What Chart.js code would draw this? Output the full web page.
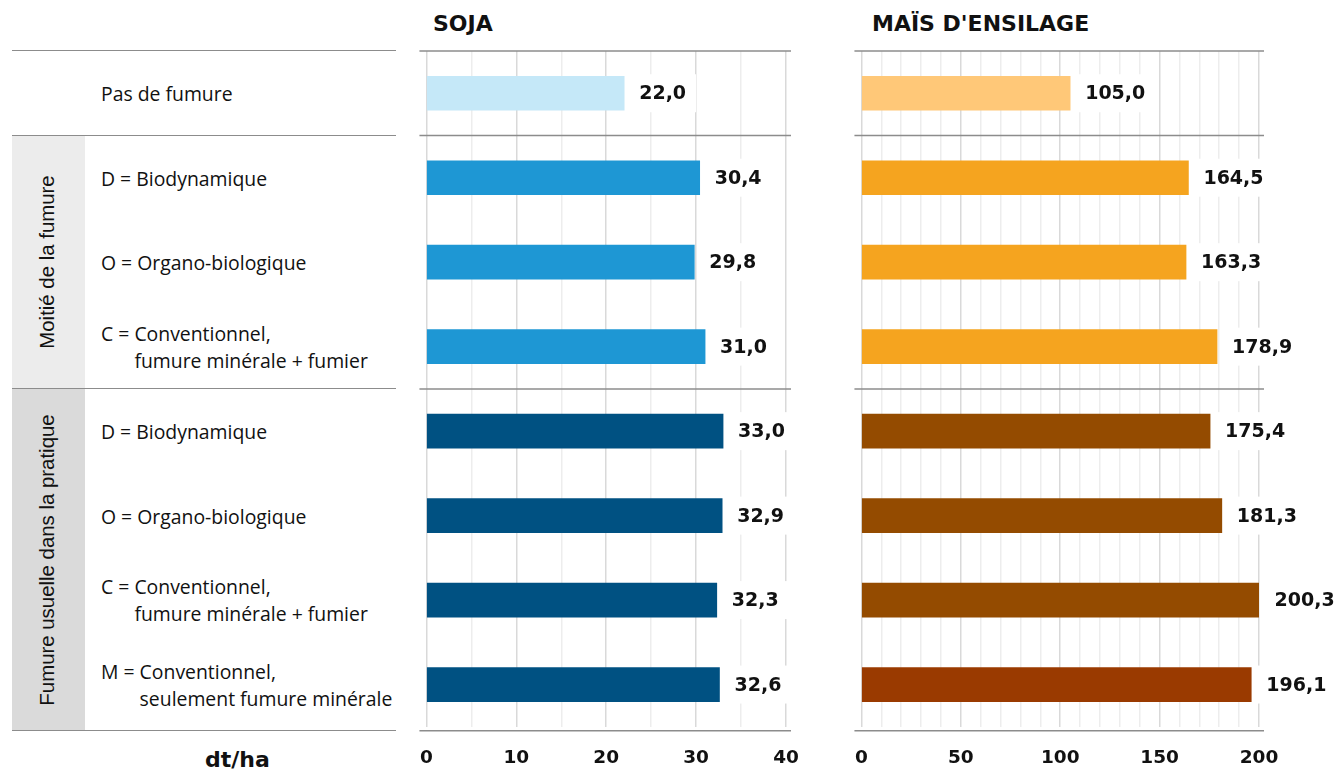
<!DOCTYPE html>
<html lang="fr">
<head>
<meta charset="utf-8">
<title>Rendements soja et maïs d'ensilage</title>
<script src="https://cdn.jsdelivr.net/npm/chart.js@4.4.1/dist/chart.umd.min.js"></script>
<style>
  html, body { margin: 0; padding: 0; background: #fff; }
  body { width: 1340px; height: 771px; position: relative; overflow: hidden;
         font-family: "Open Sans", sans-serif; color: #1a1a1a; }
  .abs { position: absolute; }
  #sojaWrap { left: 400px; top: 0; width: 430px; height: 792px; }
  #maisWrap { left: 835px; top: 0; width: 505px; height: 792px; }
  .title { font-family: "DejaVu Sans", sans-serif; font-weight: bold; font-size: 22px; top: 11px; color: #111; }
  .rowlabel { left: 101px; font-size: 19.4px; line-height: 27px; display: flex; transform: translateY(-50%); white-space: nowrap; color: #111; }
  .group { left: 12px; width: 73px; }
  .grouptext { left: 47px; transform: translate(-50%, -50%) rotate(-90deg); white-space: nowrap;
               font-family: "Liberation Sans", sans-serif; font-size: 20.4px; color: #111; }
  .sep { left: 12px; width: 384px; height: 0; border-top: 1.5px solid #8c8c8c; }
  #unit { left: 205px; top: 747px; font-family: "DejaVu Sans", sans-serif; font-weight: bold; font-size: 22px; color: #111; }
</style>
</head>
<body>
<div class="abs title" style="left:433px">SOJA</div>
<div class="abs title" style="left:872px">MAÏS D'ENSILAGE</div>
<div id="left"></div>
<div class="abs" id="unit">dt/ha</div>
<div class="abs" id="sojaWrap"><canvas id="sojaChart"></canvas></div>
<div class="abs" id="maisWrap"><canvas id="maisChart"></canvas></div>

<script>
// rows, top to bottom
const rowPrefix = ['', 'D = ', 'O = ', 'C = ', 'D = ', 'O = ', 'C = ', 'M = '];
const rowText = [
    ['Pas de fumure'],
    ['Biodynamique'],
    ['Organo-biologique'],
    ['Conventionnel,', 'fumure minérale + fumier'],
    ['Biodynamique'],
    ['Organo-biologique'],
    ['Conventionnel,', 'fumure minérale + fumier'],
    ['Conventionnel,', 'seulement fumure minérale']
];
const categories = rowText.map((t, i) => rowPrefix[i] + t.join(' '));

// groups of rows
const groupNames = ['', 'Moitié de la fumure', 'Fumure usuelle dans la pratique'];
const groupFirst = [0, 1, 4];
const groupLast = [0, 3, 7];
const groupFill = [null, '#ececec', '#dadada'];

// yields in dt/ha
const sojaValues = [22.0, 30.4, 29.8, 31.0, 33.0, 32.9, 32.3, 32.6];
const maisValues = [105.0, 164.5, 163.3, 178.9, 175.4, 181.3, 200.3, 196.1];

const sojaColors = ['#c5e8f8', '#1e97d4', '#1e97d4', '#1e97d4', '#005182', '#005182', '#005182', '#005182'];
const maisColors = ['#ffc878', '#f5a41f', '#f5a41f', '#f5a41f', '#944b00', '#944b00', '#944b00', '#9a3a00'];

const sojaTicks = { max: 40, minor: 5, major: 10 };
const maisTicks = { max: 200, minor: 10, major: 50 };

const numFont = '"DejaVu Sans", sans-serif';

function fmt(v) {
    return v.toFixed(1).replace('.', ',');
}

// boundaries between groups, from the row scale
function groupEdges(chart) {
    const y = chart.scales.y;
    const edges = [chart.chartArea.top];
    for (let g = 1; g < groupFirst.length; g++) {
        edges.push((y.getPixelForValue(groupFirst[g] - 1) + y.getPixelForValue(groupFirst[g])) / 2);
    }
    edges.push(chart.chartArea.bottom + 4);
    return edges;
}

const valueLabels = {
    id: 'valueLabels',
    afterDatasetsDraw(chart) {
        const ctx = chart.ctx;
        const data = chart.data.datasets[0].data;
        ctx.save();
        ctx.font = 'bold 19px ' + numFont;
        ctx.textBaseline = 'middle';
        chart.getDatasetMeta(0).data.forEach((bar, i) => {
            const txt = fmt(data[i]);
            const w = ctx.measureText(txt).width;
            // white box hides the grid behind the label
            ctx.fillStyle = '#fff';
            ctx.fillRect(bar.x + 6, bar.y - 19, w + 19, 38);
            ctx.fillStyle = '#111';
            ctx.fillText(txt, bar.x + 15, bar.y + 1);
        });
        ctx.restore();
    },
    afterDraw(chart) {
        const ctx = chart.ctx;
        const area = chart.chartArea;
        ctx.save();
        ctx.strokeStyle = '#8c8c8c';
        ctx.lineWidth = 1.5;
        groupEdges(chart).forEach(yy => {
            ctx.beginPath();
            ctx.moveTo(area.left - 7, yy);
            ctx.lineTo(area.right + 5, yy);
            ctx.stroke();
        });
        ctx.restore();
    }
};

function makeChart(id, values, colors, ticks, padRight) {
    return new Chart(document.getElementById(id), {
        type: 'bar',
        data: {
            labels: categories,
            datasets: [{ data: values, backgroundColor: colors, barThickness: 34 }]
        },
        options: {
            indexAxis: 'y',
            responsive: true,
            maintainAspectRatio: false,
            animation: false,
            layout: { padding: { top: 51, left: 26, right: padRight, bottom: 3 } },
            plugins: { legend: { display: false }, tooltip: { enabled: false } },
            scales: {
                y: { display: false },
                x: {
                    min: 0,
                    max: ticks.max,
                    border: { display: false },
                    grid: {
                        drawTicks: false,
                        lineWidth: 1.5,
                        color: c => (c.tick && c.tick.value % ticks.major === 0) ? '#d9d9d9' : '#ededed'
                    },
                    ticks: {
                        stepSize: ticks.minor,
                        autoSkip: false,
                        maxRotation: 0,
                        padding: 20,
                        color: '#111',
                        font: { family: numFont, size: 18.5, weight: 'bold' },
                        callback: v => v % ticks.major === 0 ? v : ''
                    }
                }
            }
        },
        plugins: [valueLabels]
    });
}

const sojaChart = makeChart('sojaChart', sojaValues, sojaColors, sojaTicks, 44);
const maisChart = makeChart('maisChart', maisValues, maisColors, maisTicks, 81);

// left table: labels, group boxes and separators placed on the row scale
function buildLeft(chart) {
    const left = document.getElementById('left');
    const y = chart.scales.y;
    const edges = groupEdges(chart);

    groupNames.forEach((name, g) => {
        if (!groupFill[g]) return;
        const box = document.createElement('div');
        box.className = 'abs group';
        box.style.top = edges[g] + 'px';
        box.style.height = (edges[g + 1] - edges[g]) + 'px';
        box.style.background = groupFill[g];
        left.appendChild(box);

        const t = document.createElement('div');
        t.className = 'abs grouptext';
        t.style.top = ((edges[g] + edges[g + 1]) / 2) + 'px';
        t.textContent = name;
        left.appendChild(t);
    });

    edges.forEach(yy => {
        const s = document.createElement('div');
        s.className = 'abs sep';
        s.style.top = (yy - 0.75) + 'px';
        left.appendChild(s);
    });

    rowText.forEach((lines, i) => {
        const row = document.createElement('div');
        row.className = 'abs rowlabel';
        row.style.top = y.getPixelForValue(i) + 'px';
        const pre = document.createElement('span');
        pre.textContent = rowPrefix[i].replace(/ /g, '\u00a0');
        const body = document.createElement('span');
        body.innerHTML = lines.join('<br>');
        row.appendChild(pre);
        row.appendChild(body);
        left.appendChild(row);
    });
}

buildLeft(sojaChart);
</script>
</body>
</html>
